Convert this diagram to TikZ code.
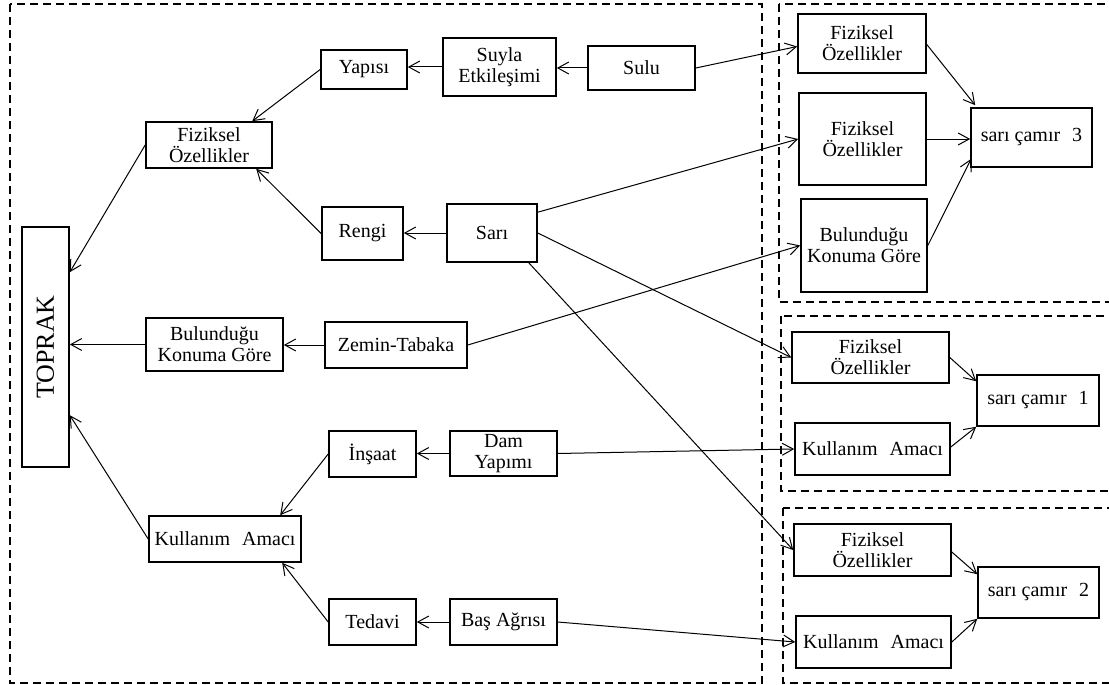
\documentclass[tikz,border=0pt]{standalone}
\usepackage{fontspec}
\setmainfont{Liberation Serif}
\usetikzlibrary{arrows.meta,calc}
\begin{document}
\begin{tikzpicture}[x=1pt,y=-1pt,
  box/.style={draw,line width=1.6pt,inner sep=0pt,align=center,
    font=\fontsize{20}{21}\selectfont},
  link/.style={line width=1pt,-{Straight Barb[length=11pt,width=12pt,line width=1pt]}},
  frame/.style={draw,line width=1.4pt,dash pattern=on 8pt off 5pt}]
\useasboundingbox (0,0) rectangle (1109,685);

% group frames
\draw[frame] (10,4) rectangle (762,683);
\draw[frame] (779,4) rectangle (1125,302);
\draw[frame] (781,316) rectangle (1125,491);
\draw[frame] (783,508) rectangle (1125,683);

% left tree
\node[box,minimum width=47pt,minimum height=240pt] (top) at (45.5,347)
  {\fontsize{26}{28}\selectfont\rotatebox{90}{TOPRAK}};
\node[box,minimum width=126pt,minimum height=46pt] (fizl) at (209,145) {Fiziksel\\Özellikler};
\node[box,minimum width=137pt,minimum height=53pt] (bull) at (214.5,344.5) {Bulunduğu\\Konuma Göre};
\node[box,minimum width=152pt,minimum height=46pt] (kull) at (225,539) {Kullanım\hspace{0.35em} Amacı};
\node[box,minimum width=86pt,minimum height=39pt] (yap) at (364,69.5) {Yapısı};
\node[box,minimum width=81pt,minimum height=53pt] (ren) at (362.5,233.5) {Rengi};
\node[box,minimum width=142pt,minimum height=46pt] (zem) at (396,345) {Zemin-Tabaka};
\node[box,minimum width=87pt,minimum height=46pt] (ins) at (372.5,454) {İnşaat};
\node[box,minimum width=87pt,minimum height=46pt] (ted) at (372.5,622) {Tedavi};
\node[box,minimum width=113pt,minimum height=58pt] (suy) at (499.5,67) {Suyla\\Etkileşimi};
\node[box,minimum width=90pt,minimum height=58pt] (sar) at (492,233) {Sarı};
\node[box,minimum width=107pt,minimum height=45pt] (dam) at (503.5,453.5) {Dam\\Yapımı};
\node[box,minimum width=107pt,minimum height=46pt] (bas) at (503.5,622) {Baş Ağrısı};
\node[box,minimum width=107pt,minimum height=44pt] (sul) at (641.5,68) {Sulu};

% sarı çamır 3
\node[box,minimum width=128pt,minimum height=59pt] (f3a) at (862,43.5) {Fiziksel\\Özellikler};
\node[box,minimum width=127pt,minimum height=92pt] (f3b) at (862.5,139) {Fiziksel\\Özellikler};
\node[box,minimum width=126pt,minimum height=93pt] (b3) at (864,245.5) {Bulunduğu\\Konuma Göre};
\node[box,minimum width=121pt,minimum height=59pt] (s3) at (1031.5,137.5) {sarı çamır\hspace{0.35em} 3};

% sarı çamır 1
\node[box,minimum width=157pt,minimum height=51pt] (f1) at (870.5,357.5) {Fiziksel\\Özellikler};
\node[box,minimum width=155pt,minimum height=52pt] (k1) at (872.5,449) {Kullanım\hspace{0.35em} Amacı};
\node[box,minimum width=122pt,minimum height=51pt] (s1) at (1038,400.5) {sarı çamır\hspace{0.35em} 1};

% sarı çamır 2
\node[box,minimum width=157pt,minimum height=52pt] (f2) at (872.5,550) {Fiziksel\\Özellikler};
\node[box,minimum width=155pt,minimum height=52pt] (k2) at (873.5,642) {Kullanım\hspace{0.35em} Amacı};
\node[box,minimum width=121pt,minimum height=51pt] (s2) at (1038.5,592.5) {sarı çamır\hspace{0.35em} 2};

% connectors of the left tree
\draw[link] (sul.west) -- (suy.east |- sul.west);
\draw[link] (suy.west) -- (yap.east |- suy.west);
\draw[link] (yap.west) -- ($(fizl.north west)+(107,0)$);
\draw[link] (ren.west) -- ($(fizl.south west)+(111,0)$);
\draw[link] (fizl.west) -- ($(top.north east)+(0,46)$);
\draw[link] (sar.west) -- (ren.east |- sar.west);
\draw[link] (zem.west) -- (bull.east |- zem.west);
\draw[link] (bull.west) -- (top.east |- bull.west);
\draw[link] (ins.west) -- ($(kull.north west)+(132,0)$);
\draw[link] (kull.west) -- ($(top.north east)+(0,189)$);
\draw[link] (ted.west) -- ($(kull.south west)+(134,0)$);
\draw[link] (dam.west) -- (ins.east |- dam.west);
\draw[link] (bas.west) -- (ted.east |- bas.west);

% connectors into the groups
\draw[link] (sul.east) -- ($(f3a.west)+(0,3)$);
\draw[link] ($(sar.north east)+(0,9)$) -- (f3b.west);
\draw[link] (zem.east) -- (b3.west);
\draw[link] (sar.east) -- (f1.west);
\draw[link] ($(sar.south east)+(-9,0)$) -- (f2.west);
\draw[link] (dam.east) -- (k1.west);
\draw[link] (bas.east) -- (k2.west);

% connectors inside the groups
\draw[link] ($(f3a.east)+(0,1)$) -- ($(s3.north west)+(5,-2)$);
\draw[link] (f3b.east) -- (s3.west |- f3b.east);
\draw[link] (b3.east) -- ($(s3.south west)+(1,-9)$);
\draw[link] (f1.east) -- ($(s1.north west)+(0,7)$);
\draw[link] ($(k1.east)+(0,-2)$) -- (s1.south west);
\draw[link] ($(f2.east)+(0,2)$) -- ($(s2.north west)+(0,8)$);
\draw[link] (k2.east) -- (s2.south west);
\end{tikzpicture}
\end{document}
